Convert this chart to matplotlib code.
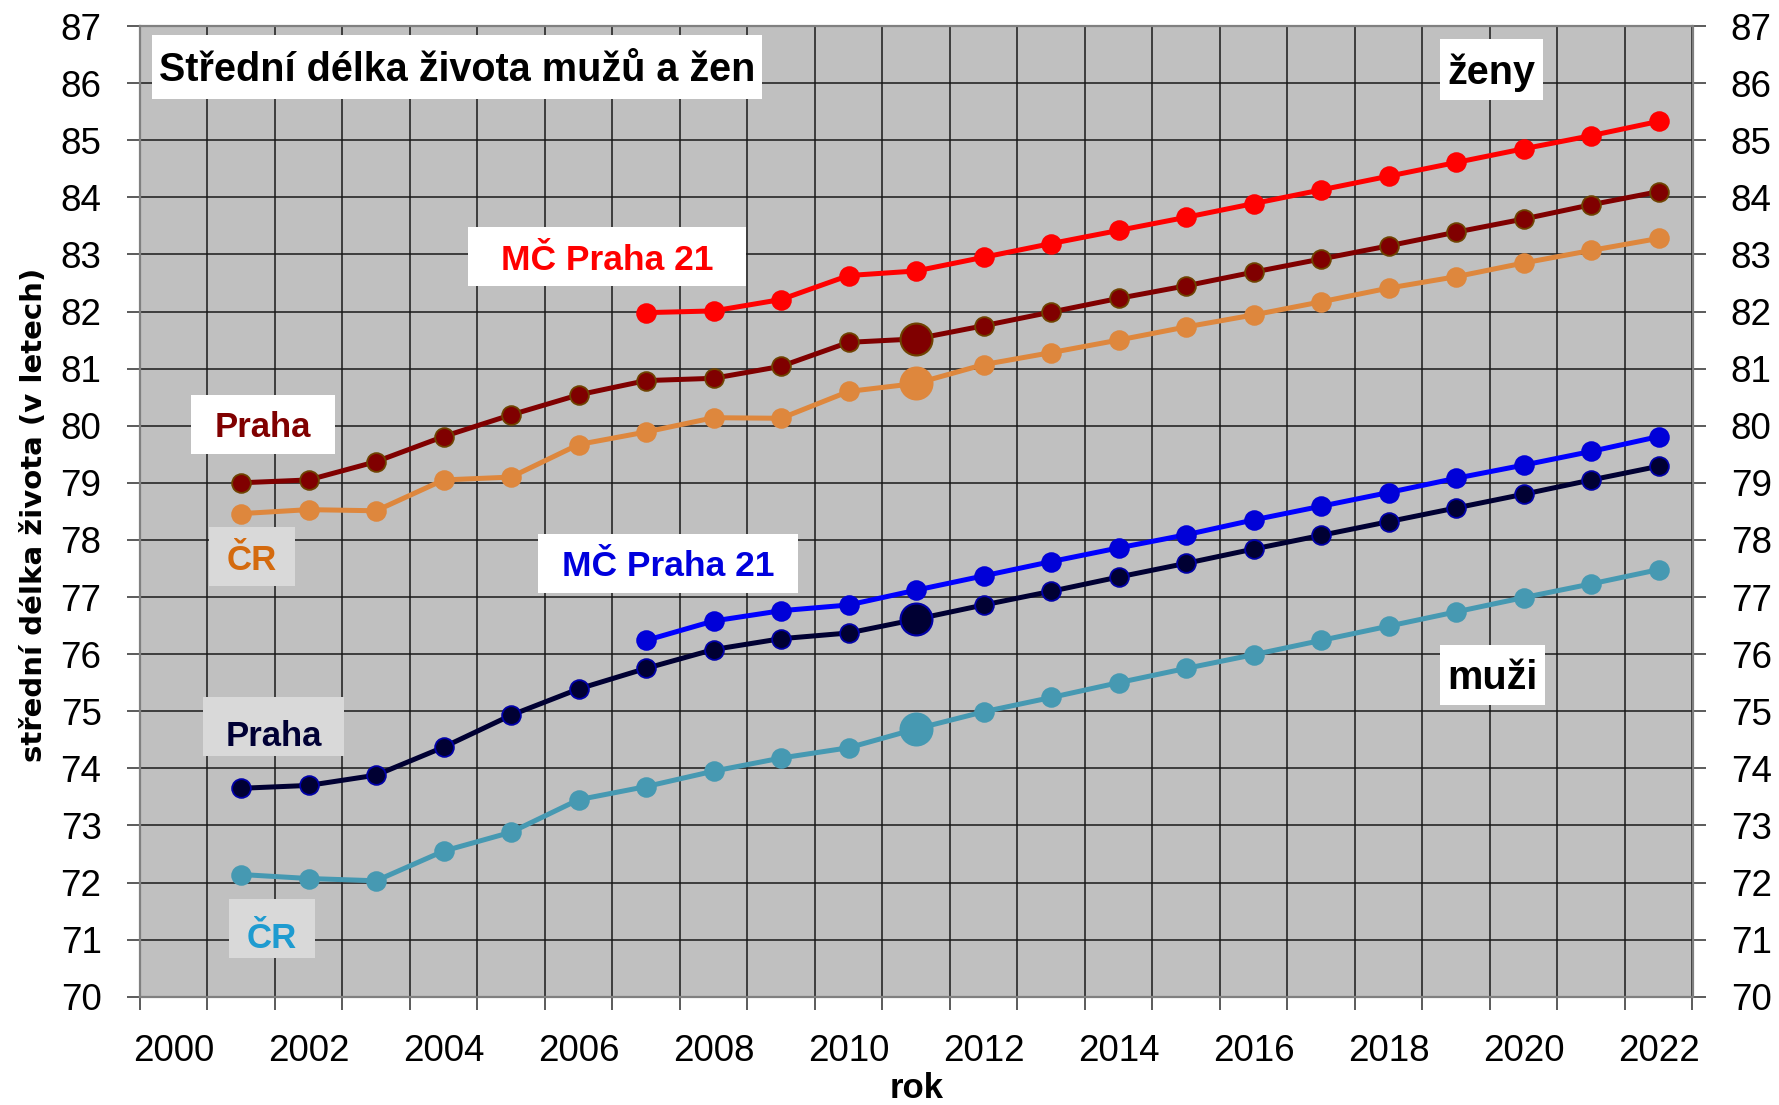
import numpy as np
import matplotlib
matplotlib.use("Agg")
import matplotlib.pyplot as plt
from matplotlib.patches import Rectangle

plt.rcParams['font.family'] = ['Liberation Sans', 'DejaVu Sans']

# ---------------- data ----------------
years = list(range(2001, 2023))
years_mc = list(range(2007, 2023))
census_year = 2011

zeny_mc21 = [81.98, 82.01, 82.21, 82.63, 82.71, 82.95, 83.19, 83.42, 83.65, 83.89,
             84.13, 84.37, 84.61, 84.85, 85.08, 85.33]
zeny_praha = [79.00, 79.05, 79.37, 79.81, 80.19, 80.54, 80.79, 80.83, 81.04, 81.46, 81.52,
              81.75, 81.99, 82.23, 82.45, 82.69, 82.92, 83.15, 83.39, 83.62, 83.87, 84.10]
zeny_cr = [78.46, 78.53, 78.51, 79.05, 79.10, 79.67, 79.89, 80.14, 80.13, 80.60, 80.74,
           81.07, 81.28, 81.50, 81.73, 81.94, 82.17, 82.41, 82.61, 82.85, 83.07, 83.28]
muzi_mc21 = [76.24, 76.58, 76.76, 76.86, 77.12, 77.37, 77.62, 77.86, 78.09, 78.35,
             78.59, 78.83, 79.08, 79.31, 79.55, 79.81]
muzi_praha = [73.65, 73.70, 73.88, 74.37, 74.93, 75.39, 75.75, 76.08, 76.27, 76.37, 76.61,
              76.86, 77.10, 77.35, 77.59, 77.84, 78.08, 78.32, 78.56, 78.80, 79.05, 79.29]
muzi_cr = [72.14, 72.07, 72.03, 72.55, 72.88, 73.45, 73.68, 73.95, 74.18, 74.36, 74.69,
           74.99, 75.24, 75.50, 75.75, 75.99, 76.24, 76.49, 76.74, 76.99, 77.23, 77.48]

x_tick_labels = [str(y) for y in range(2000, 2023, 2)]
y_ticks = list(range(70, 88))

title = "Střední délka života mužů a žen"
y_label = "střední délka života (v letech)"
x_label = "rok"

# ---------------- figure ----------------
W, H = 1779, 1105
fig = plt.figure(figsize=(W / 100, H / 100), dpi=100)
L, R, T, B = 139.75, 1692.5, 26.0, 996.7
ax = fig.add_axes([L / W, 1 - B / H, (R - L) / W, (B - T) / H])
ax.set_facecolor('#C0C0C0')
ax.set_xlim(1999.5, 2022.5)
ax.set_ylim(70, 87)

ax.set_xticks(range(2000, 2023, 2))
ax.set_xticklabels(x_tick_labels)
ax.set_xticks(np.arange(1999.5, 2023.0, 1.0), minor=True)
ax.set_yticks(y_ticks)
ax.set_yticklabels([str(v) for v in y_ticks])

ax.grid(axis='x', which='minor', color='#1a1a1a', lw=1.1, zorder=0)
ax.grid(axis='y', which='major', color='#1a1a1a', lw=1.1, zorder=0)
ax.set_axisbelow(True)

ax.tick_params(axis='x', which='major', length=0, pad=27, labelsize=26.5)
ax.tick_params(axis='x', which='minor', length=9.5, width=1.2, color='#404040', direction='out')
ax.tick_params(axis='y', which='major', left=True, right=True, labelleft=True, labelright=True,
               length=9.5, width=1.2, color='#404040', direction='out', pad=18, labelsize=26.5)
ax.tick_params(axis='y', which='minor', left=False, right=False)
for s in ax.spines.values():
    s.set_color('#808080')
    s.set_linewidth(1.6)

lw = 3.6
ms = 13.5
big = 23


def series(xs, ys, line_c, face_c, edge_c, with_big, z):
    ax.plot(xs, ys, color=line_c, lw=lw, marker='o', ms=ms, mfc=face_c, mec=edge_c,
            mew=1.3, zorder=z, solid_capstyle='round')
    if with_big:
        i = xs.index(census_year)
        ax.plot([xs[i]], [ys[i]], marker='o', ms=big, mfc=face_c, mec=edge_c, mew=1.5,
                ls='none', zorder=z + 0.5)


series(years, muzi_cr, '#4699B2', '#4699B2', '#4699B2', True, 3)
series(years, muzi_praha, '#000033', '#000033', '#0000A8', True, 4)
series(years_mc, muzi_mc21, '#0000FF', '#0000D8', '#0000D8', False, 5)
series(years, zeny_cr, '#DE873D', '#DE873D', '#DE873D', True, 6)
series(years, zeny_praha, '#800000', '#800000', '#6E4200', True, 7)
series(years_mc, zeny_mc21, '#FF0000', '#FF0000', '#FF0000', False, 8)


def box(x0, y0, x1, y1, text, color, face, size, dy):
    fig.patches.append(Rectangle((x0 / W, 1 - y1 / H), (x1 - x0) / W, (y1 - y0) / H,
                                 transform=fig.transFigure, facecolor=face,
                                 edgecolor='none', zorder=10))
    fig.text((x0 + x1) / 2 / W, 1 - ((y0 + y1) / 2 + dy) / H, text, color=color,
             fontsize=size, fontweight='bold', ha='center', va='center', zorder=11)


box(152, 35, 762, 99, title, 'black', 'white', 28.5, 3)
box(1440, 39, 1543, 100, "ženy", 'black', 'white', 28.5, 3)
box(468, 227, 746, 286, "MČ Praha 21", '#FF0000', 'white', 25.5, 4)
box(191, 395, 335, 454, "Praha", '#800000', 'white', 25, 3)
box(209, 527, 295, 586, "ČR", '#D46A0E', '#D9D9D9', 25, 4)
box(538, 534, 798, 593, "MČ Praha 21", '#0000DD', 'white', 25.5, 3)
box(203, 697, 344, 756, "Praha", '#000035', '#D9D9D9', 25, 10)
box(229, 899, 315, 958, "ČR", '#1E9BD0', '#D9D9D9', 25, 10)
box(1440, 645, 1545, 705, "muži", 'black', 'white', 28.5, 3)

fig.text(917 / W, 1 - 1089 / H, x_label, fontsize=25, fontweight='bold',
         ha='center', va='center')
fig.text(34 / W, 1 - 515 / H, y_label, fontsize=21, fontweight='bold', rotation=90,
         ha='center', va='center', family=['DejaVu Sans'])

fig.savefig('out.png', dpi=100)
